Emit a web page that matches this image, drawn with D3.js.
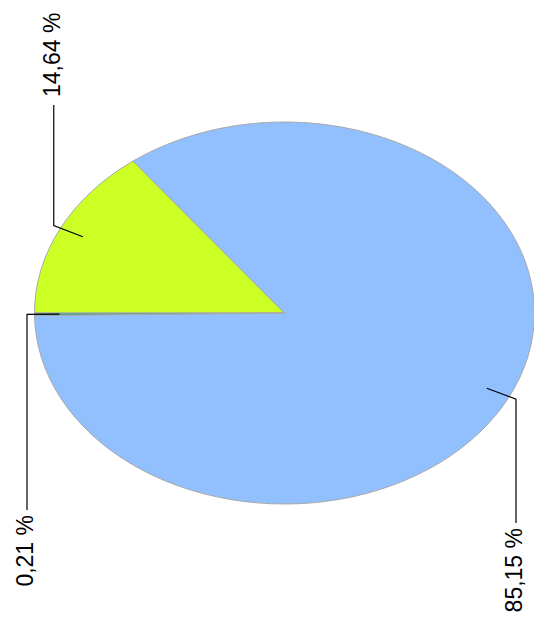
<!DOCTYPE html>
<html>
<head>
<meta charset="utf-8">
<script src="https://cdn.jsdelivr.net/npm/d3@7"></script>
<style>
  html, body { margin: 0; padding: 0; background: #fff; }
  svg { display: block; }
  text { font-family: "Liberation Sans", Arial, sans-serif; }
</style>
</head>
<body>
<svg></svg>
<script>
// pie data, in drawing order (clockwise from the left)
var labels = ["14,64 %", "85,15 %", "0,21 %"];
var values = [14.64, 85.15, 0.21];
var colors = ["#ccff24", "#92c0ff", "#3d9e86"];

var svgWidth = 534, svgHeight = 620;
var cx = 284.5, cy = 313, rx = 250, ry = 191;

var svg = d3.select("svg")
    .attr("width", svgWidth)
    .attr("height", svgHeight);

// circle pie squashed into an ellipse
var g = svg.append("g")
    .attr("transform", "translate(" + cx + "," + cy + ") scale(1," + (ry / rx) + ")");

var pie = d3.pie()
    .sort(null)
    .value(function(d) { return d; })
    .startAngle(-Math.PI / 2)
    .endAngle(1.5 * Math.PI);

var arcs = pie(values);

var path = d3.arc().outerRadius(rx).innerRadius(0);

g.selectAll("path.slice")
    .data(arcs)
    .enter()
    .append("path")
    .attr("class", "slice")
    .attr("d", path)
    .attr("fill", function(d, i) { return colors[i]; })
    .attr("stroke", "#a8a8a8")
    .attr("stroke-width", 1)
    .attr("vector-effect", "non-scaling-stroke");

// leader lines + rotated labels
function pt(d, f) {
    var a = (d.startAngle + d.endAngle) / 2;
    return [cx + Math.sin(a) * rx * f, cy - Math.cos(a) * ry * f];
}

// where the vertical leader ends, and which way the text runs
var labelEnds = [105, 523, 510];

var lines = svg.append("g");
arcs.forEach(function(d, i) {
    var p0 = pt(d, 0.9), p1 = pt(d, 1.03);
    var up = labelEnds[i] < p1[1];
    lines.append("polyline")
        .attr("points", [p0, p1, [p1[0], labelEnds[i]]].map(function(p) { return p.join(","); }).join(" "))
        .attr("fill", "none")
        .attr("stroke", "#000")
        .attr("stroke-width", 1.2);
    var ty = up ? labelEnds[i] - 8 : labelEnds[i] + 5;
    lines.append("text")
        .attr("transform", "translate(" + (p1[0] + 6) + "," + ty + ") rotate(-90)")
        .attr("text-anchor", up ? "start" : "end")
        .attr("font-size", 23)
        .attr("fill", "#000")
        .text(labels[i]);
});
</script>
</body>
</html>
